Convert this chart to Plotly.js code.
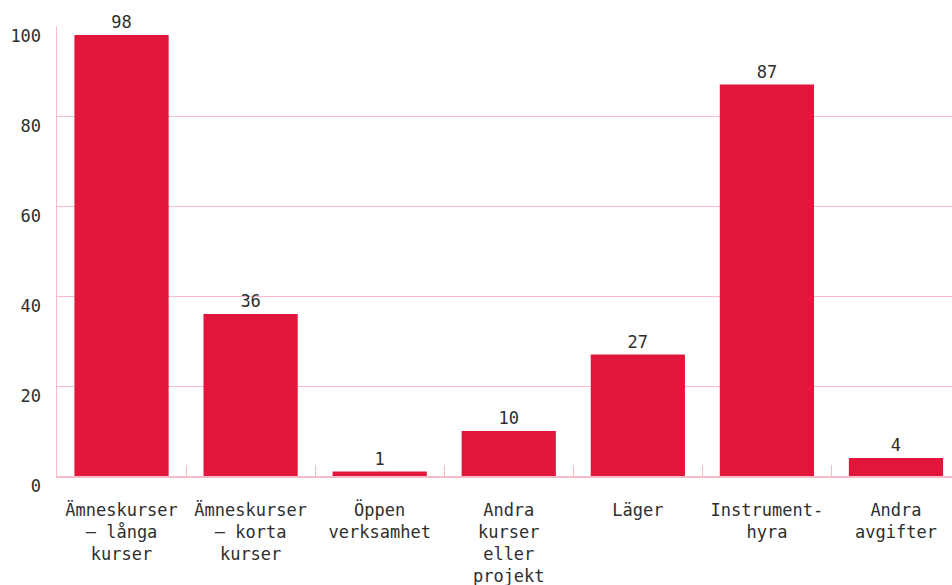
<!DOCTYPE html>
<html><head><meta charset="utf-8">
<script src="https://cdn.plot.ly/plotly-3.0.1.min.js"></script>
<style>html,body{margin:0;padding:0;background:#fff}#c{width:952px;height:585px}</style>
</head><body><div id="c"></div>
<script>
const categories = ["Ämneskurser<br>– långa<br>kurser","Ämneskurser<br>– korta<br>kurser","Öppen<br>verksamhet","Andra<br>kurser<br>eller<br>projekt","Läger","Instrument-<br>hyra","Andra<br>avgifter"];
const values = [98, 36, 1, 10, 27, 87, 4];
const yTicks = [0, 20, 40, 60, 80, 100];

const font = {family: "DejaVu Sans Mono, monospace", size: 17, color: "#2e2e2e"};
const pink = "#F7BCC8";
Plotly.newPlot("c", [{
  type: "bar", x: categories, y: values,
  marker: {color: "#E2153B"},
  text: values.map(String), textposition: "outside", cliponaxis: false,
  textfont: font, hoverinfo: "none"
}], {
  width: 952, height: 585,
  margin: {l: 57, r: 0, t: 26, b: 109},
  paper_bgcolor: "#fff", plot_bgcolor: "#fff",
  bargap: 0.27, showlegend: false, font: font,
  xaxis: {range: [-0.5, 6.434], showline: true, linecolor: pink, linewidth: 1.5,
    ticks: "inside", tickson: "boundaries", ticklen: 11, tickcolor: pink, tickwidth: 1,
    tickfont: font, ticklabelstandoff: 18, fixedrange: true},
  yaxis: {range: [0, 100], tickvals: yTicks, showgrid: true, gridcolor: pink, gridwidth: 1,
    showline: true, linecolor: pink, linewidth: 1.5, zeroline: false,
    tickfont: font, ticklabelstandoff: 11, ticklabelshift: 10, fixedrange: true}
}, {staticPlot: true});
</script></body></html>
